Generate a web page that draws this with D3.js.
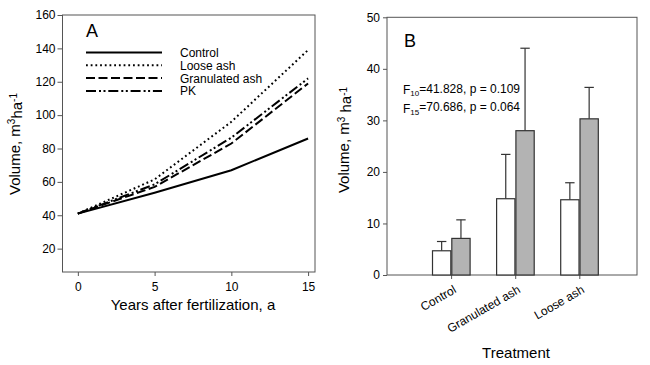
<!DOCTYPE html>
<meta charset="utf-8">
<script src="https://d3js.org/d3.v7.min.js"></script>
<style>
  body { margin: 0; background: #fff; }
  text { font-family: "Liberation Sans", Arial, sans-serif; fill: #000; }
  .tick text { font-size: 12px; }
  .tick line { stroke: #555; }
</style>
<div id="chart"></div>
<script>
// panel A data: volume over years after fertilization
var years = [0, 5, 10, 15];
var control = [41, 53.5, 67, 86];
var looseAsh = [41, 61.5, 96, 139];
var granulatedAsh = [41, 57, 83, 119];
var pk = [41, 58.5, 86.5, 122];
var seriesNames = ["Control", "Loose ash", "Granulated ash", "PK"];
var yTicksA = [20, 40, 60, 80, 100, 120, 140, 160];

// panel B data: volume increment per treatment (white = 10 yr, grey = 15 yr)
var treatments = ["Control", "Granulated ash", "Loose ash"];
var vol10 = [4.7, 14.8, 14.6];
var err10 = [1.8, 8.6, 3.3];
var vol15 = [7.1, 28.0, 30.3];
var err15 = [3.6, 16.0, 6.1];
var yTicksB = [0, 10, 20, 30, 40, 50];

var svg = d3.select("#chart").append("svg")
  .attr("width", 650)
  .attr("height", 365);

// ---------- panel A ----------
var xA = d3.scaleLinear().domain([-1, 15.45]).range([62.5, 315]);
var yA = d3.scaleLinear().domain([6, 160]).range([272, 15]);

var gA = svg.append("g");

gA.append("g")
  .attr("transform", "translate(0," + yA(6) + ")")
  .call(d3.axisBottom(xA).tickValues(years).tickSize(4).tickPadding(6))
  .select(".domain").remove();

gA.append("g")
  .attr("transform", "translate(" + xA(-1) + ",0)")
  .call(d3.axisLeft(yA).tickValues(yTicksA).tickSize(5).tickPadding(2))
  .select(".domain").remove();

gA.append("rect")
  .attr("x", xA(-1)).attr("y", yA(160))
  .attr("width", xA(15.45) - xA(-1))
  .attr("height", yA(6) - yA(160))
  .attr("fill", "none").attr("stroke", "#555").attr("stroke-width", 1);

var dashes = [null, "1.8,2.9", "9,3.5", "10,3,2,2.5,2,2.8"];
var allSeries = [control, looseAsh, granulatedAsh, pk];

var line = d3.line()
  .x(function(d, i) { return xA(years[i]); })
  .y(function(d) { return yA(d); });

allSeries.forEach(function(s, i) {
  gA.append("path")
    .datum(s)
    .attr("d", line)
    .attr("fill", "none")
    .attr("stroke", "#000")
    .attr("stroke-width", 2)
    .attr("stroke-dasharray", dashes[i]);
});

gA.append("text").attr("x", 86).attr("y", 36.5)
  .style("font-size", "18px").text("A");

// legend
seriesNames.forEach(function(name, i) {
  var ly = 52.5 + i * 12.8;
  gA.append("line")
    .attr("x1", 86).attr("x2", 162)
    .attr("y1", ly).attr("y2", ly)
    .attr("stroke", "#000").attr("stroke-width", 2)
    .attr("stroke-dasharray", dashes[i]);
  gA.append("text").attr("x", 180).attr("y", ly + 4.5)
    .style("font-size", "12px").text(name);
});

gA.append("text")
  .attr("x", xA(7.5)).attr("y", 310)
  .attr("text-anchor", "middle")
  .style("font-size", "15px")
  .text("Years after fertilization, a");

var titleA = gA.append("text")
  .attr("transform", "translate(19.5,144) rotate(-90)")
  .attr("text-anchor", "middle")
  .style("font-size", "15px");
titleA.append("tspan").text("Volume, m");
titleA.append("tspan").attr("dy", "-0.45em").style("font-size", "10px").text("3");
titleA.append("tspan").attr("dy", "0.45em").text("ha");
titleA.append("tspan").attr("dy", "-0.45em").style("font-size", "10px").text("-1");

// ---------- panel B ----------
var xB = d3.scaleLinear().domain([0, 3.9]).range([387, 637]);
var yB = d3.scaleLinear().domain([0, 50]).range([275, 17.3]);

var gB = svg.append("g");

gB.append("g")
  .attr("transform", "translate(" + xB(0) + ",0)")
  .call(d3.axisLeft(yB).tickValues(yTicksB).tickSize(4).tickPadding(3))
  .select(".domain").remove();

var xAxisB = gB.append("g")
  .attr("transform", "translate(0," + yB(0) + ")")
  .call(d3.axisBottom(xB).tickValues([1, 2, 3]).tickSize(4).tickFormat(""));
xAxisB.select(".domain").remove();

gB.append("rect")
  .attr("x", xB(0)).attr("y", yB(50))
  .attr("width", xB(3.9) - xB(0))
  .attr("height", yB(0) - yB(50))
  .attr("fill", "none").attr("stroke", "#555").attr("stroke-width", 1);

var barW = 18.3;
var groups = treatments.map(function(t, i) {
  return { name: t, i: i + 1, v10: vol10[i], e10: err10[i], v15: vol15[i], e15: err15[i] };
});

function drawBar(cx, v, e, fill) {
  var top = yB(v);
  var mid = cx + barW / 2;
  gB.append("line")
    .attr("x1", mid).attr("x2", mid)
    .attr("y1", top).attr("y2", yB(v + e))
    .attr("stroke", "#333").attr("stroke-width", 1.2);
  gB.append("line")
    .attr("x1", mid - 4.7).attr("x2", mid + 4.7)
    .attr("y1", yB(v + e)).attr("y2", yB(v + e))
    .attr("stroke", "#333").attr("stroke-width", 1.2);
  gB.append("rect")
    .attr("x", cx).attr("y", top)
    .attr("width", barW).attr("height", yB(0) - top)
    .attr("fill", fill).attr("stroke", "#333").attr("stroke-width", 1.2);
}

groups.forEach(function(g) {
  var c = xB(g.i);
  drawBar(c - barW - 0.3, g.v10, g.e10, "#fff");
  drawBar(c + 0.7, g.v15, g.e15, "#b3b3b3");
});

groups.forEach(function(g) {
  gB.append("text")
    .attr("transform", "translate(" + (xB(g.i) + 6) + ",292) rotate(-30)")
    .attr("text-anchor", "end")
    .style("font-size", "12px")
    .text(g.name);
});

gB.append("text").attr("x", 404).attr("y", 47)
  .style("font-size", "18px").text("B");

var ann1 = gB.append("text").attr("x", 403).attr("y", 94).style("font-size", "12px");
ann1.append("tspan").text("F");
ann1.append("tspan").attr("dy", "0.3em").style("font-size", "8px").text("10");
ann1.append("tspan").attr("dy", "-0.3em").text("=41.828, p = 0.109");

var ann2 = gB.append("text").attr("x", 403).attr("y", 112.5).style("font-size", "12px");
ann2.append("tspan").text("F");
ann2.append("tspan").attr("dy", "0.3em").style("font-size", "8px").text("15");
ann2.append("tspan").attr("dy", "-0.3em").text("=70.686, p = 0.064");

gB.append("text")
  .attr("x", 516).attr("y", 358)
  .attr("text-anchor", "middle")
  .style("font-size", "15px")
  .text("Treatment");

var titleB = gB.append("text")
  .attr("transform", "translate(349,140) rotate(-90)")
  .attr("text-anchor", "middle")
  .style("font-size", "15px");
titleB.append("tspan").text("Volume, m");
titleB.append("tspan").attr("dy", "-0.45em").style("font-size", "10px").text("3");
titleB.append("tspan").attr("dy", "0.45em").text(" ha");
titleB.append("tspan").attr("dy", "-0.45em").style("font-size", "10px").text("-1");
</script>
